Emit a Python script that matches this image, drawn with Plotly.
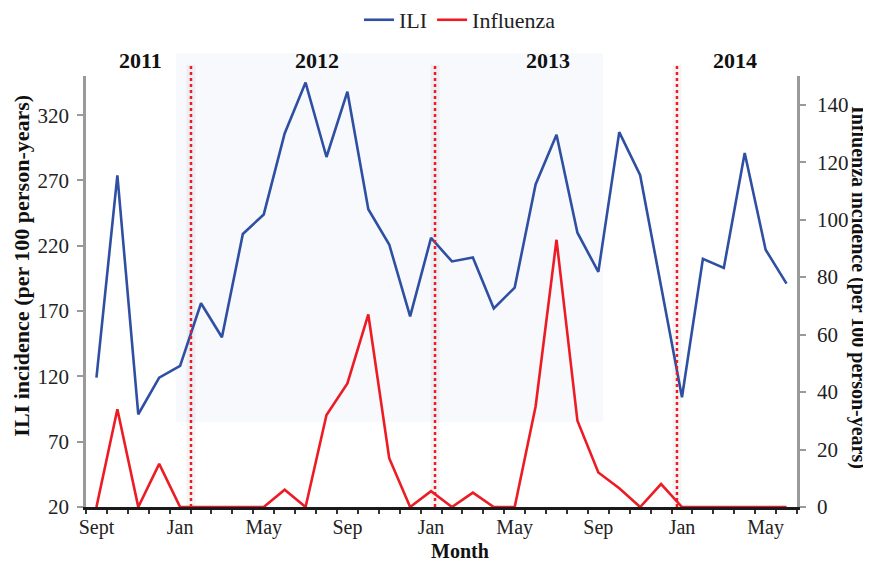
import plotly.graph_objects as go

# ---- data ----
month_index = list(range(34))  # Sept 2011 ... June 2014
tick_positions = [0, 4, 8, 12, 16, 20, 24, 28, 32]
tick_labels = ["Sept", "Jan", "May", "Sep", "Jan", "May", "Sep", "Jan", "May"]

ili = [119, 274, 91, 119, 128, 176, 150, 229, 244, 306, 345, 288, 338, 248, 221, 166,
       226, 208, 211, 172, 188, 267, 305, 230, 200, 307, 274, 190, 104, 210, 203, 291, 217, 191]
influenza = [0, 34, 0, 15, 0, 0, 0, 0, 0, 6, 0, 32, 43, 67, 17, 0,
             5.5, 0, 5, 0, 0, 35, 93, 30, 12, 6.5, 0, 8, 0, 0, 0, 0, 0, 0]

year_labels = ["2011", "2012", "2013", "2014"]
year_label_x = [2.1, 10.55, 21.6, 30.55]
season_lines_x = [4.52, 16.19, 27.76]
shade_x = [3.8, 24.23]

ili_ticks = [20, 70, 120, 170, 220, 270, 320]
flu_ticks = [0, 20, 40, 60, 80, 100, 120, 140]

FONT = "Liberation Serif"
BLUE = "#2f4fa2"
RED = "#ed1c24"
GREY = "#9a9a9a"

fig = go.Figure()
fig.add_trace(go.Scatter(x=month_index, y=ili, mode="lines", name="ILI",
                         line=dict(color=BLUE, width=2.6), yaxis="y"))
fig.add_trace(go.Scatter(x=month_index, y=influenza, mode="lines", name="Influenza",
                         line=dict(color=RED, width=2.6), yaxis="y2"))

shapes = [dict(type="rect", xref="x", yref="paper", x0=shade_x[0], x1=shade_x[1],
               y0=0.197, y1=1.053, fillcolor="#f7f9fd", line=dict(width=0), layer="below")]
for sx in season_lines_x:
    shapes.append(dict(type="line", xref="x", yref="paper", x0=sx, x1=sx, y0=0, y1=1.026,
                       line=dict(color="rgba(150,150,150,0.10)", width=9), layer="below"))
    shapes.append(dict(type="line", xref="x", yref="paper", x0=sx, x1=sx, y0=0, y1=1.026,
                       line=dict(color=RED, width=2.5, dash="dot"), layer="above"))

annotations = []
for lab, lx in zip(year_labels, year_label_x):
    annotations.append(dict(text="<b>" + lab + "</b>", x=lx, y=1.037, xref="x", yref="paper",
                            showarrow=False, font=dict(family=FONT, size=22, color="#111"),
                            xanchor="center", yanchor="middle"))
annotations.append(dict(text="<b>ILI incidence (per 100 person-years)</b>", x=-0.09, y=0.56,
                        xref="paper", yref="paper", showarrow=False, textangle=-90,
                        font=dict(family=FONT, size=22, color="#111"),
                        xanchor="center", yanchor="middle"))
annotations.append(dict(text="<b>Influenza incidence (per 100 person-years)</b>", x=1.0875, y=0.51,
                        xref="paper", yref="paper", showarrow=False, textangle=90,
                        font=dict(family=FONT, size=20, color="#111"),
                        xanchor="center", yanchor="middle"))
annotations.append(dict(text="<b>Month</b>", x=0.526, y=-0.101, xref="paper", yref="paper",
                        showarrow=False, font=dict(family=FONT, size=20, color="#111"),
                        xanchor="center", yanchor="middle"))

# page body adds an 8px offset, so the figure is sized/margined to compensate
fig.update_layout(
    width=863, height=554,
    margin=dict(l=78, r=74, t=68, b=55, autoexpand=False),
    paper_bgcolor="white", plot_bgcolor="rgba(0,0,0,0)",
    font=dict(family=FONT, size=21, color="#222"),
    showlegend=True,
    legend=dict(orientation="h", x=0.526, y=1.13, xanchor="center", yanchor="middle",
                font=dict(family=FONT, size=22, color="#222"), bgcolor="rgba(0,0,0,0)"),
    xaxis=dict(range=[-0.5, 33.5], tickvals=tick_positions, ticktext=tick_labels,
               ticks="", showgrid=False, zeroline=False,
               showline=True, linecolor="#1a1a1a", linewidth=3,
               tickfont=dict(family=FONT, size=20, color="#222"),
               minor=dict(tick0=-0.5, dtick=1, ticks="outside", ticklen=4, tickwidth=2,
                          tickcolor="#333", showgrid=False)),
    yaxis=dict(range=[20, 350], tickvals=ili_ticks, showgrid=False, zeroline=False,
               showline=True, linecolor=GREY, linewidth=2.5, ticks="outside", ticklen=6,
               tickcolor=GREY, tickwidth=2, ticklabelstandoff=4,
               tickfont=dict(family=FONT, size=21, color="#222")),
    yaxis2=dict(range=[0, 150], tickvals=flu_ticks, overlaying="y", side="right",
                showgrid=False, zeroline=False, showline=True, linecolor=GREY, linewidth=2.5,
                ticks="outside", ticklen=6, tickcolor=GREY, tickwidth=2, ticklabelstandoff=7,
                tickfont=dict(family=FONT, size=21, color="#222")),
    shapes=shapes,
    annotations=annotations,
)

fig.write_html("out.html")
